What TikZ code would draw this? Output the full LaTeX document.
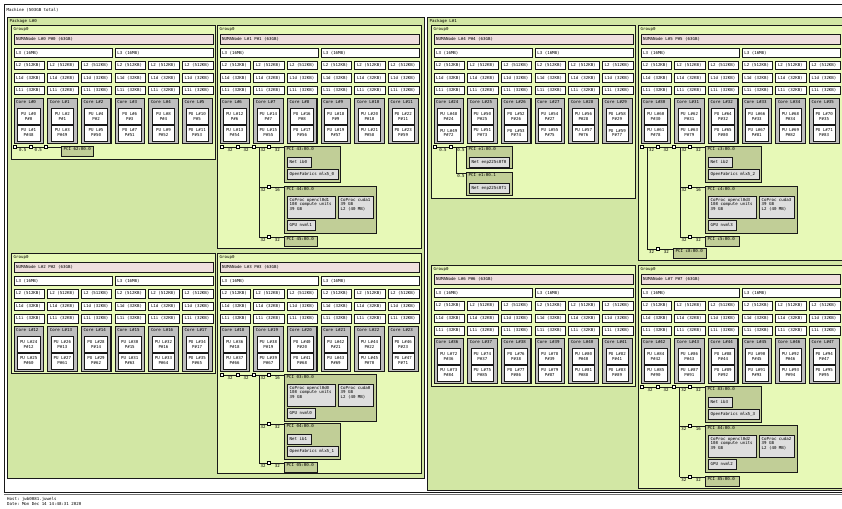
\documentclass[tikz,border=0pt]{standalone}
\usepackage{fontspec}
\setmonofont{DejaVu Sans Mono}
\usetikzlibrary{positioning}

\definecolor{pkgcol}{RGB}{210,231,164}
\definecolor{grpcol}{RGB}{231,249,183}
\definecolor{numacol}{RGB}{239,223,222}
\definecolor{corecol}{RGB}{190,190,190}
\definecolor{pcicol}{RGB}{193,206,151}
\definecolor{oscol}{RGB}{222,222,222}

\newcommand{\lsfont}{\fontsize{4.1}{4.8}\selectfont\ttfamily}

% one NUMA group: x, y, index, height
\newcommand{\numagroup}[4]{%
  \node[grpbox, minimum width=204pt, minimum height=#4pt,
        label={[toplbl]north west:Group0}] (grp#3) at (#1,#2) {};
  \node[numabox, label={[midlbl]west:{NUMANode L\##3 P\##3 (63GB)}}] (numa#3) at ({#1+2.5},{#2+9}) {};
  \foreach \k in {0,1}
    \node[cachebox, minimum width=98pt, minimum height=9pt,
          label={[midlbl]west:{L3 (16MB)}}] (lthree#3\k) at ({#1+2.5+101.2*\k},{#2+23}) {};
  \foreach \j in {0,...,5}{%
    \pgfmathtruncatemacro{\cn}{6*#3+\j}%
    \pgfmathtruncatemacro{\pua}{2*\cn}%
    \pgfmathtruncatemacro{\pub}{2*\cn+1}%
    \pgfmathtruncatemacro{\psb}{\cn+48}%
    \pgfmathsetmacro{\cx}{#1+2.5+33.7*\j}%
    \node[cachebox, label={[midlbl]west:{L2 (512KB)}}] (ltwo#3\j) at (\cx,{#2+36}) {};
    \node[cachebox, label={[midlbl]west:{L1d (32KB)}}] (lond#3\j) at (\cx,{#2+48.5}) {};
    \node[cachebox, label={[midlbl]west:{L1i (32KB)}}] (loni#3\j) at (\cx,{#2+61}) {};
    \node[corebox, label={[toplbl]north west:{Core L\#\cn}}] (core\cn) at (\cx,{#2+73}) {};
    \node[pubox] (pu\pua) at ({\cx+3.5},{#2+83}) {PU L\#\pua\\P\#\cn};
    \node[pubox] (pu\pub) at ({\cx+3.5},{#2+99.5}) {PU L\#\pub\\P\#\psb};
  }%
}

% PCI box holding an HCA: name, x, y, bus id, index
\newcommand{\hcabox}[5]{%
  \node[pcibox, minimum width=56pt, minimum height=36.5pt,
        label={[toplbl]north west:{PCI #4}}] (#1) at (#2,#3) {};
  \node[osbox, minimum width=23.5pt, minimum height=10pt,
        label={[midlbl]west:{Net ib#5}}] (#1net) at ({#2+3},{#3+11.5}) {};
  \node[osbox, minimum width=50.5pt, minimum height=10pt,
        label={[midlbl]west:{OpenFabrics mlx5\_#5}}] (#1ofa) at ({#2+3},{#3+23.5}) {};
}

% PCI box holding a GPU: name, x, y, bus id, index
\newcommand{\gpubox}[5]{%
  \node[pcibox, minimum width=92pt, minimum height=47.5pt,
        label={[toplbl]north west:{PCI #4}}] (#1) at (#2,#3) {};
  \node[osbox, minimum width=48pt, minimum height=22.5pt,
        label={[toplbl, align=left]north west:{CoProc opencl0d#5\\108 compute units\\39 GB}}] (#1ocl) at ({#2+3},{#3+10}) {};
  \node[osbox, minimum width=35pt, minimum height=22.5pt,
        label={[toplbl, align=left]north west:{CoProc cuda#5\\39 GB\\L2 (40 MB)}}] (#1cuda) at ({#2+54},{#3+10}) {};
  \node[osbox, minimum width=28pt, minimum height=10pt,
        label={[midlbl]west:{GPU nvml#5}}] (#1nvml) at ({#2+3},{#3+34.5}) {};
}

% branch off a bus: bus, square, box, left speed, right speed
\newcommand{\pcibranch}[5]{%
  \draw[link] (#1 |- #2) -- node[spd]{#4} (#2);
  \draw[link] (#2) -- node[spd]{#5} (#2 -| #3.west);
}

\begin{document}
\begin{tikzpicture}[x=1pt, y=-1pt,
  lbl/.style={font=\lsfont, inner sep=0pt},
  midlbl/.style={lbl, anchor=west, xshift=2.5pt},
  toplbl/.style={lbl, anchor=north west, xshift=2.5pt, yshift=-2.2pt},
  hwbox/.style={draw=black!90, line width=0.8pt, anchor=north west, inner sep=0pt},
  machbox/.style={hwbox, fill=white},
  pkgbox/.style={hwbox, fill=pkgcol},
  grpbox/.style={hwbox, fill=grpcol},
  numabox/.style={hwbox, fill=numacol, minimum width=199pt, minimum height=10pt},
  cachebox/.style={hwbox, fill=white, minimum width=30.5pt, minimum height=8.5pt},
  corebox/.style={hwbox, fill=corecol, line width=1.1pt, minimum width=29.5pt, minimum height=45pt},
  pubox/.style={hwbox, fill=white, minimum width=22.5pt, minimum height=16pt, font=\lsfont, align=center},
  brsq/.style={draw=black, fill=white, line width=0.6pt, minimum size=3pt, inner sep=0pt, anchor=center},
  link/.style={draw=black!90, line width=0.7pt},
  spd/.style={lbl, anchor=north, yshift=-1.3pt},
  pcibox/.style={hwbox, fill=pcicol},
  osbox/.style={hwbox, fill=oscol}
]
  \useasboundingbox (0,0) rectangle (842,508);
  \clip (0,0) rectangle (842,508);
  \fill[white] (0,0) rectangle (842,508);

  \node[machbox, minimum width=850pt, minimum height=488pt,
        label={[toplbl, yshift=-2pt]north west:{Machine (503GB total)}}] (machine) at (4,4) {};
  \draw[black!55, line width=0.8pt] ([yshift=-2pt]machine.south west) -- ([yshift=-2pt]machine.south east);

  \node[pkgbox, minimum width=417pt, minimum height=461pt,
        label={[toplbl]north west:{Package L\#0}}] (pkg0) at (7,17) {};
  \node[pkgbox, minimum width=425pt, minimum height=473pt,
        label={[toplbl]north west:{Package L\#1}}] (pkg1) at (427,17) {};

  % groups of package 0
  \numagroup{11}{25}{0}{134}
  \numagroup{217}{25}{1}{223}
  \numagroup{11}{253}{2}{120}
  \numagroup{217}{253}{3}{220}
  % groups of package 1
  \numagroup{431}{25}{4}{173}
  \numagroup{638}{25}{5}{235}
  \numagroup{431}{265}{6}{121}
  \numagroup{638}{265}{7}{223}

  % PCI of group 0
  \node[brsq] (hb0) at (15,147) {};
  \node[brsq] (br0a) at (30.5,147) {};
  \node[brsq] (br0b) at (46,147) {};
  \node[pcibox, minimum width=32pt, minimum height=10.5pt,
        label={[toplbl]north west:{PCI 62:00.0}}] (pci0a) at (61,145.5) {};
  \draw[link] (hb0) -- node[spd]{0.5} (br0a);
  \draw[link] (br0a) -- node[spd]{0.5} (br0b);
  \draw[link] (br0b) -- (br0b -| pci0a.west);

  % PCI of group 1
  \node[brsq] (hb1) at (222,147) {};
  \node[brsq] (br1a) at (238,147) {};
  \node[brsq] (br1b) at (254,147) {};
  \coordinate (bus1) at (259,147);
  \coordinate (bus1end) at (259,237);
  \node[brsq] (br1c) at (269,147) {};
  \node[brsq] (br1d) at (269,187) {};
  \node[brsq] (br1e) at (269,237) {};
  \hcabox{pci1a}{284}{145.5}{43:00.0}{0}
  \gpubox{pci1b}{284}{185.5}{44:00.0}{1}
  \node[pcibox, minimum width=33pt, minimum height=10pt,
        label={[toplbl]north west:{PCI 45:00.0}}] (pci1c) at (284,235.5) {};
  \draw[link] (hb1) -- node[spd]{32} (br1a);
  \draw[link] (br1a) -- node[spd]{32} (br1b);
  \draw[link] (br1b) -- (bus1) -- (bus1end);
  \pcibranch{bus1}{br1c}{pci1a}{32}{32}
  \pcibranch{bus1}{br1d}{pci1b}{32}{16}
  \pcibranch{bus1}{br1e}{pci1c}{32}{32}

  % PCI of group 3
  \node[brsq] (hb3) at (222,375) {};
  \node[brsq] (br3a) at (238,375) {};
  \node[brsq] (br3b) at (254,375) {};
  \coordinate (bus3) at (259,375);
  \coordinate (bus3end) at (259,463);
  \node[brsq] (br3c) at (269,375) {};
  \node[brsq] (br3d) at (269,424) {};
  \node[brsq] (br3e) at (269,463) {};
  \gpubox{pci3a}{284}{373.5}{03:00.0}{0}
  \hcabox{pci3b}{284}{422.5}{04:00.0}{1}
  \node[pcibox, minimum width=33pt, minimum height=10pt,
        label={[toplbl]north west:{PCI 05:00.0}}] (pci3c) at (284,461.5) {};
  \draw[link] (hb3) -- node[spd]{32} (br3a);
  \draw[link] (br3a) -- node[spd]{32} (br3b);
  \draw[link] (br3b) -- (bus3) -- (bus3end);
  \pcibranch{bus3}{br3c}{pci3a}{32}{16}
  \pcibranch{bus3}{br3d}{pci3b}{32}{32}
  \pcibranch{bus3}{br3e}{pci3c}{32}{32}

  % PCI of group 4
  \node[brsq] (hb4) at (435,147) {};
  \node[brsq] (br4a) at (451,147) {};
  \coordinate (bus4) at (456,147);
  \coordinate (bus4end) at (456,173);
  \node[pcibox, minimum width=46pt, minimum height=22.5pt,
        label={[toplbl]north west:{PCI e1:00.0}}] (pci4a) at (466,145.5) {};
  \node[osbox, minimum width=40pt, minimum height=9.5pt,
        label={[midlbl]west:{Net enp225s0f0}}] (net4a) at (469,157) {};
  \node[pcibox, minimum width=46pt, minimum height=23.5pt,
        label={[toplbl]north west:{PCI e1:00.1}}] (pci4b) at (466,171.5) {};
  \node[osbox, minimum width=40pt, minimum height=9.5pt,
        label={[midlbl]west:{Net enp225s0f1}}] (net4b) at (469,183) {};
  \draw[link] (hb4) -- node[spd]{0.5} (br4a);
  \draw[link] (br4a) -- (bus4) -- (bus4end);
  \draw[link] (bus4) -- node[spd]{0.5} (bus4 -| pci4a.west);
  \draw[link] (bus4end) -- node[spd]{0.5} (bus4end -| pci4b.west);

  % PCI of group 5
  \node[brsq] (hb5) at (642,147) {};
  \coordinate (bus5a) at (647,147);
  \coordinate (bus5aend) at (647,249);
  \node[brsq] (br5a) at (658,147) {};
  \node[brsq] (br5b) at (674,147) {};
  \coordinate (bus5b) at (680,147);
  \coordinate (bus5bend) at (680,237);
  \node[brsq] (br5c) at (690,147) {};
  \node[brsq] (br5d) at (690,187) {};
  \node[brsq] (br5e) at (690,237) {};
  \node[brsq] (br5f) at (658,249) {};
  \hcabox{pci5a}{705}{145.5}{c3:00.0}{2}
  \gpubox{pci5b}{705}{185.5}{c4:00.0}{3}
  \node[pcibox, minimum width=34pt, minimum height=10pt,
        label={[toplbl]north west:{PCI c5:00.0}}] (pci5c) at (705,235.5) {};
  \node[pcibox, minimum width=33pt, minimum height=10pt,
        label={[toplbl]north west:{PCI c8:00.0}}] (pci5d) at (673,247.5) {};
  \draw[link] (hb5) -- (bus5a) -- (bus5aend);
  \draw[link] (bus5a) -- node[spd]{32} (br5a);
  \draw[link] (br5a) -- node[spd]{32} (br5b);
  \draw[link] (br5b) -- (bus5b) -- (bus5bend);
  \pcibranch{bus5b}{br5c}{pci5a}{32}{32}
  \pcibranch{bus5b}{br5d}{pci5b}{32}{16}
  \pcibranch{bus5b}{br5e}{pci5c}{32}{32}
  \pcibranch{bus5a}{br5f}{pci5d}{32}{32}

  % PCI of group 7
  \node[brsq] (hb7) at (642,387) {};
  \node[brsq] (br7a) at (658,387) {};
  \node[brsq] (br7b) at (674,387) {};
  \coordinate (bus7) at (679.5,387);
  \coordinate (bus7end) at (679.5,477);
  \node[brsq] (br7c) at (690,387) {};
  \node[brsq] (br7d) at (690,426) {};
  \node[brsq] (br7e) at (690,477) {};
  \hcabox{pci7a}{705}{385.5}{83:00.0}{3}
  \gpubox{pci7b}{705}{424.5}{84:00.0}{2}
  \node[pcibox, minimum width=34pt, minimum height=10pt,
        label={[toplbl]north west:{PCI 85:00.0}}] (pci7c) at (705,475.5) {};
  \draw[link] (hb7) -- node[spd]{32} (br7a);
  \draw[link] (br7a) -- node[spd]{32} (br7b);
  \draw[link] (br7b) -- (bus7) -- (bus7end);
  \pcibranch{bus7}{br7c}{pci7a}{32}{32}
  \pcibranch{bus7}{br7d}{pci7b}{32}{16}
  \pcibranch{bus7}{br7e}{pci7c}{32}{32}

  % legend
  \node[lbl, anchor=west] (host) at (7,499) {Host: jwb0081.juwels};
  \node[lbl, anchor=west] (date) at (7,504.5) {Date: Mon Dec 14 14:48:31 2020};
\end{tikzpicture}
\end{document}
